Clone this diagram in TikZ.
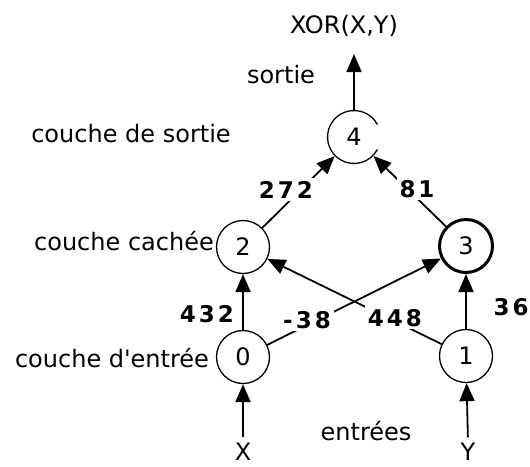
\documentclass[tikz,border=0pt]{standalone}
\usepackage{fontspec}
\setmainfont{DejaVu Sans}[Ligatures=TeXOff]
\usetikzlibrary{arrows.meta}
\begin{document}
\begin{tikzpicture}[x=1pt,y=-1pt,
  neuron/.style={circle,draw,line width=1.3pt,minimum size=53pt,inner sep=0pt,font=\fontsize{24}{26}\selectfont},
  txt/.style={font=\fontsize{24}{26}\selectfont,inner sep=0pt,anchor=base},
  wt/.style={font=\fontsize{23}{25}\selectfont\bfseries,fill=white,inner sep=3pt,anchor=base},
  conn/.style={line width=1.8pt,-{Triangle[length=18pt,width=15pt]}},
]
\useasboundingbox (0,0) rectangle (530,466);
% neurons
\node[neuron] (n0) at (243,357) {0};
\node[neuron] (n1) at (466,356) {1};
\node[neuron] (n2) at (243,247) {2};
\node[neuron,line width=3pt] (n3) at (466,246) {3};
\node[neuron,draw=none] (n4) at (354,137) {4};
\draw[line width=1.3pt] (n4.center) ++(28:26.5) arc[start angle=28, end angle=332, radius=26.5];
% texts
\node[txt] (xor) at (344,33) {XOR(X,Y)};
\node[txt] (sortie) at (281,83) {sortie};
\node[txt] (ls) at (131,142) {couche de sortie};
\node[txt] (lc) at (124,250) {couche cachée};
\node[txt] (le) at (112,367) {couche d'entrée};
\node[txt] (ent) at (366,440) {entrées};
\node[txt] (x) at (243,460) {X};
\node[txt] (y) at (468,460) {Y};
% connectors
\draw[conn,shorten <=5pt] (x.north) -- (n0);
\draw[conn,shorten <=5pt] (y.north) -- (n1);
\draw[conn] (n0) -- (n2);
\draw[conn] (n1) -- (n3);
\draw[conn] (n0) -- (n3);
\draw[conn] (n1) -- (n2);
\draw[conn] (n2) -- (n4);
\draw[conn] (n3) -- (n4);
\draw[conn,shorten >=2pt] (n4) -- (354,52) coordinate (outtip);
% weights
\node[wt] (w432) at (207,322) {4\kern3pt3\kern3pt2};
\node[wt] (w272) at (286,198) {2\kern3pt7\kern3pt2};
\node[wt] (w81) at (417,197) {8\kern3pt1};
\node[wt] (wm38) at (307,328) {-\kern3pt3\kern3pt8};
\node[wt] (w448) at (395,326) {4\kern3pt4\kern3pt8};
\node[wt] (w36) at (511,315) {3\kern3pt6};
\end{tikzpicture}
\end{document}
